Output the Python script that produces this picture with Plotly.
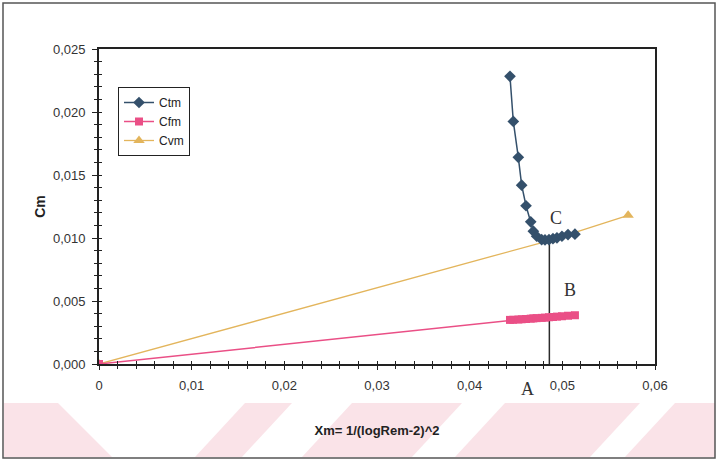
import plotly.graph_objects as go

# --- data -------------------------------------------------------------
ctm_x = [0.04435, 0.04471, 0.04525, 0.04561, 0.04608, 0.04659, 0.04687, 0.04723,
         0.04777, 0.04813, 0.04856, 0.04899, 0.04942, 0.04996, 0.05061, 0.05136]
ctm_y = [0.02283, 0.01925, 0.01640, 0.01419, 0.01256, 0.01128, 0.01054, 0.01014,
         0.00987, 0.00985, 0.00987, 0.00995, 0.01001, 0.01014, 0.01027, 0.01030]

cfm_x = [0.0] + ctm_x
cfm_y = [0.0, 0.00350, 0.00351, 0.00353, 0.00355, 0.00357, 0.00360, 0.00362, 0.00364,
         0.00366, 0.00368, 0.00371, 0.00373, 0.00376, 0.00379, 0.00383, 0.00387]

cvm_x = [0.0, 0.0486, 0.0571]
cvm_y = [0.0, 0.0098, 0.0118]

# operating point: A on the axis, B on Cfm, C on Cvm/Ctm
point_x = 0.0486
point_c = 0.0098

x_range = [0, 0.06]
y_range = [0, 0.025]

COL_CTM = "#34506b"
COL_CFM = "#ea4f86"
COL_CVM = "#e3b55c"
AXC = "#222222"
FONT = "Liberation Sans, Arial, sans-serif"
SERIF = "Liberation Serif, Times New Roman, serif"

W, H = 718, 463
L, R, T, B = 99, 655, 49, 364   # plot-area pixel box


def px(x, y):
    """pixel position -> paper coordinates"""
    return (x - L) / (R - L), (B - y) / (B - T)


fig = go.Figure()

fig.add_trace(go.Scatter(
    x=[point_x, point_x], y=[0, point_c], mode="lines",
    line=dict(color="#2b2b2b", width=1.5), showlegend=False, hoverinfo="skip"))

fig.add_trace(go.Scatter(
    x=cvm_x, y=cvm_y, name="Cvm", mode="lines+markers",
    line=dict(color=COL_CVM, width=1.3),
    marker=dict(symbol="triangle-up", size=10, color=COL_CVM)))

fig.add_trace(go.Scatter(
    x=cfm_x, y=cfm_y, name="Cfm", mode="lines+markers",
    line=dict(color=COL_CFM, width=1.5),
    marker=dict(symbol="square", size=8, color=COL_CFM)))

fig.add_trace(go.Scatter(
    x=ctm_x, y=ctm_y, name="Ctm", mode="lines+markers",
    line=dict(color=COL_CTM, width=1.5),
    marker=dict(symbol="diamond", size=9, color=COL_CTM)))

# helper trace so the crossing (inside) tick axes get drawn
fig.add_trace(go.Scatter(x=[None], y=[None], xaxis="x2", yaxis="y2",
                         showlegend=False, hoverinfo="skip"))

tick_style = dict(showgrid=False, zeroline=False, tickcolor=AXC, tickwidth=1.2)

fig.update_layout(
    width=W, height=H,
    margin=dict(l=L, r=W - R, t=T, b=H - B, pad=0),
    paper_bgcolor="white", plot_bgcolor="white",
    separators=", ",
    font=dict(family=FONT, size=13, color="#333333"),
    xaxis=dict(range=x_range, dtick=0.01, tick0=0, ticks="outside", ticklen=4,
               mirror=True, showline=True, linecolor=AXC, linewidth=1.7,
               ticklabelstandoff=5,
               minor=dict(dtick=0.002, ticks="outside", ticklen=3,
                          tickcolor=AXC, tickwidth=1.2),
               tickfont=dict(size=13, color="#333333"),
               title=dict(text="<b>Xm= 1/(logRem-2)^2</b>", standoff=33,
                          font=dict(size=13, color="#222222")),
               **tick_style),
    yaxis=dict(range=y_range, dtick=0.005, tick0=0, tickformat=".3f",
               ticks="outside", ticklen=5, mirror=True, showline=True,
               linecolor=AXC, linewidth=1.7, ticklabelstandoff=4,
               minor=dict(dtick=0.001, ticks="outside", ticklen=3,
                          tickcolor=AXC, tickwidth=1.2),
               tickfont=dict(size=13, color="#333333"),
               title=dict(text="<b>Cm</b>", standoff=4,
                          font=dict(size=14, color="#222222")),
               **tick_style),
    xaxis2=dict(overlaying="x", range=x_range, dtick=0.01, tick0=0,
                ticks="inside", ticklen=3, showticklabels=False,
                minor=dict(dtick=0.002, ticks="inside", ticklen=3,
                           tickcolor=AXC, tickwidth=1.2),
                anchor="y2", side="bottom", showline=False, **tick_style),
    yaxis2=dict(overlaying="y", range=y_range, dtick=0.005, tick0=0,
                ticks="inside", ticklen=3, showticklabels=False,
                minor=dict(dtick=0.001, ticks="inside", ticklen=3,
                           tickcolor=AXC, tickwidth=1.2),
                anchor="x2", side="left", showline=False, **tick_style),
    legend=dict(x=px(118, 0)[0], y=px(0, 87)[1], xanchor="left", yanchor="top",
                bgcolor="white", bordercolor="#222222", borderwidth=1,
                font=dict(size=12, color="#222222"), traceorder="reversed",
                itemwidth=30, tracegroupgap=0),
    showlegend=True,
)

# point labels
for label, (lx, ly) in {"C": (556, 218), "B": (570, 290), "A": (527, 389)}.items():
    ax, ay = px(lx, ly)
    fig.add_annotation(x=ax, y=ay, xref="paper", yref="paper", text=label,
                       xanchor="center", yanchor="middle", showarrow=False,
                       font=dict(family=SERIF, size=18, color="#333333"))

# pale pink band with white diagonal stripes along the bottom of the page
shapes = []
bx0, by0 = px(4, 403)
bx1, by1 = px(715, 457)
shapes.append(dict(type="rect", xref="paper", yref="paper", x0=bx0, y0=by1,
                   x1=bx1, y1=by0, fillcolor="#fae3e8", line_width=0,
                   layer="below"))
stripes = [
    [(58, 403), (245, 403), (195, 457), (112, 457)],
    [(292, 403), (352, 403), (302, 457), (242, 457)],
    [(462, 403), (505, 403), (455, 457), (412, 457)],
    [(640, 403), (675, 403), (625, 457), (590, 457)],
]
for poly in stripes:
    pts = [px(x, y) for x, y in poly]
    path = "M " + " L ".join(f"{a:.4f},{b:.4f}" for a, b in pts) + " Z"
    shapes.append(dict(type="path", xref="paper", yref="paper", path=path,
                       fillcolor="white", line_width=0, layer="below"))

# page frame
fx0, fy0 = px(3, 3)
fx1, fy1 = px(715, 458)
shapes.append(dict(type="rect", xref="paper", yref="paper", x0=fx0, y0=fy1,
                   x1=fx1, y1=fy0, line=dict(color="#555555", width=1.5),
                   fillcolor="rgba(0,0,0,0)", layer="below"))
fig.update_layout(shapes=shapes)

fig.write_html("out.html")
